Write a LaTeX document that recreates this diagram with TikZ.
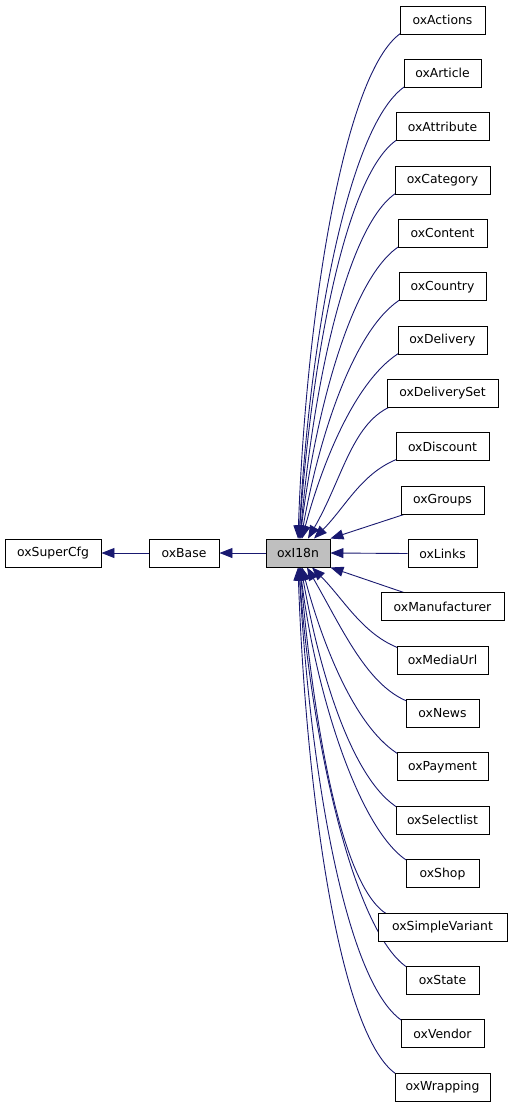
\documentclass[tikz,border=0pt]{standalone}
\usepackage{fontspec}
\setmainfont{DejaVu Sans}
\usetikzlibrary{arrows.meta,backgrounds}
\definecolor{edgeblue}{HTML}{191970}
\definecolor{mainfill}{HTML}{BFBFBF}
\begin{document}
\begin{tikzpicture}[x=1pt,y=1pt,
  cls/.style={draw=black, line width=0.9pt, fill=white, minimum height=28pt, inner sep=0pt,
    font=\fontsize{12.4}{14}\selectfont},
  edge/.style={draw=edgeblue, line width=0.9pt, -{Triangle[length=13pt,width=10pt]}}]
\useasboundingbox (0,0) rectangle (512,-1107);
% left chain
\node[cls, minimum width=96pt] (super) at (53,-553) {oxSuperCfg};
\node[cls, minimum width=70pt] (base) at (184,-553) {oxBase};
\node[cls, fill=mainfill, minimum width=64pt] (i18n) at (298,-553) {oxI18n};
% children
\node[cls, minimum width=85pt]  (c0)  at (442.5,-20)     {oxActions};
\node[cls, minimum width=77pt]  (c1)  at (442.5,-73.35)  {oxArticle};
\node[cls, minimum width=93pt]  (c2)  at (442.5,-126.7)  {oxAttribute};
\node[cls, minimum width=95pt]  (c3)  at (442.5,-180.05) {oxCategory};
\node[cls, minimum width=89pt]  (c4)  at (442.5,-233.4)  {oxContent};
\node[cls, minimum width=87pt]  (c5)  at (442.5,-286.75) {oxCountry};
\node[cls, minimum width=89pt]  (c6)  at (442.5,-340.1)  {oxDelivery};
\node[cls, minimum width=111pt] (c7)  at (442.5,-393.45) {oxDeliverySet};
\node[cls, minimum width=93pt]  (c8)  at (442.5,-446.8)  {oxDiscount};
\node[cls, minimum width=83pt]  (c9)  at (442.5,-500.15) {oxGroups};
\node[cls, minimum width=69pt]  (c10) at (442.5,-553.5)  {oxLinks};
\node[cls, minimum width=123pt] (c11) at (442.5,-606.85) {oxManufacturer};
\node[cls, minimum width=91pt]  (c12) at (442.5,-660.2)  {oxMediaUrl};
\node[cls, minimum width=73pt]  (c13) at (442.5,-713.55) {oxNews};
\node[cls, minimum width=91pt]  (c14) at (442.5,-766.9)  {oxPayment};
\node[cls, minimum width=93pt]  (c15) at (442.5,-820.25) {oxSelectlist};
\node[cls, minimum width=73pt]  (c16) at (442.5,-873.6)  {oxShop};
\node[cls, minimum width=129pt] (c17) at (442.5,-926.95) {oxSimpleVariant};
\node[cls, minimum width=73pt]  (c18) at (442.5,-980.3)  {oxState};
\node[cls, minimum width=83pt]  (c19) at (442.5,-1033.65) {oxVendor};
\node[cls, minimum width=95pt]  (c20) at (442.5,-1087)   {oxWrapping};
\begin{scope}[on background layer]
\draw[edge] (base.west) -- (super.east);
\draw[edge] (i18n.west) -- (base.east);
% upper group
\draw[edge] ([shift={(4pt,3pt)}]c0.south west) to[out=210,in=88,out distance=68pt,in distance=225pt] ([xshift=0pt]i18n.north);
\draw[edge] ([shift={(4pt,3pt)}]c1.south west) to[out=210,in=87,out distance=68pt,in distance=200pt] ([xshift=1pt]i18n.north);
\draw[edge] ([shift={(4pt,3pt)}]c2.south west) to[out=210,in=86,out distance=63pt,in distance=175pt] ([xshift=1pt]i18n.north);
\draw[edge] ([shift={(4pt,3pt)}]c3.south west) to[out=210,in=85,out distance=60pt,in distance=150pt] ([xshift=2pt]i18n.north);
\draw[edge] ([shift={(4pt,3pt)}]c4.south west) to[out=210,in=83,out distance=58pt,in distance=125pt] ([xshift=2pt]i18n.north);
\draw[edge] ([shift={(4pt,3pt)}]c5.south west) to[out=210,in=80,out distance=55pt,in distance=105pt] ([xshift=3pt]i18n.north);
\draw[edge] ([shift={(4pt,3pt)}]c6.south west) to[out=210,in=75,out distance=52pt,in distance=80pt] ([xshift=4pt]i18n.north);
\draw[edge] ([shift={(8pt,3pt)}]c7.south west) to[out=200,in=60,out distance=45pt,in distance=70pt] ([xshift=10pt]i18n.north);
\draw[edge] ([shift={(4pt,3pt)}]c8.south west) to[out=200,in=45,out distance=40pt,in distance=45pt] ([xshift=16pt]i18n.north);
% straight
\draw[edge] ([xshift=3pt]c9.south west) -- (i18n.north east);
\draw[edge] (c10.west) -- (i18n.east);
\draw[edge] ([xshift=23pt]c11.north west) -- (i18n.south east);
% lower group
\draw[edge] ([shift={(4pt,-3pt)}]c12.north west) to[out=160,in=-45,out distance=40pt,in distance=45pt] ([xshift=14pt]i18n.south);
\draw[edge] ([shift={(4pt,-3pt)}]c13.north west) to[out=160,in=-60,out distance=45pt,in distance=70pt] ([xshift=9pt]i18n.south);
\draw[edge] ([shift={(4pt,-3pt)}]c14.north west) to[out=150,in=-75,out distance=52pt,in distance=80pt] ([xshift=4pt]i18n.south);
\draw[edge] ([shift={(4pt,-3pt)}]c15.north west) to[out=150,in=-80,out distance=55pt,in distance=105pt] ([xshift=3pt]i18n.south);
\draw[edge] ([shift={(4pt,-3pt)}]c16.north west) to[out=150,in=-83,out distance=58pt,in distance=125pt] ([xshift=2pt]i18n.south);
\draw[edge] ([shift={(10pt,-2pt)}]c17.north west) to[out=150,in=-85,out distance=55pt,in distance=150pt] ([xshift=2pt]i18n.south);
\draw[edge] ([shift={(4pt,-3pt)}]c18.north west) to[out=150,in=-86,out distance=63pt,in distance=175pt] ([xshift=1pt]i18n.south);
\draw[edge] ([shift={(4pt,-3pt)}]c19.north west) to[out=150,in=-87,out distance=68pt,in distance=200pt] ([xshift=1pt]i18n.south);
\draw[edge] ([shift={(4pt,-3pt)}]c20.north west) to[out=150,in=-88,out distance=68pt,in distance=225pt] ([xshift=0pt]i18n.south);
\end{scope}
\end{tikzpicture}
\end{document}
